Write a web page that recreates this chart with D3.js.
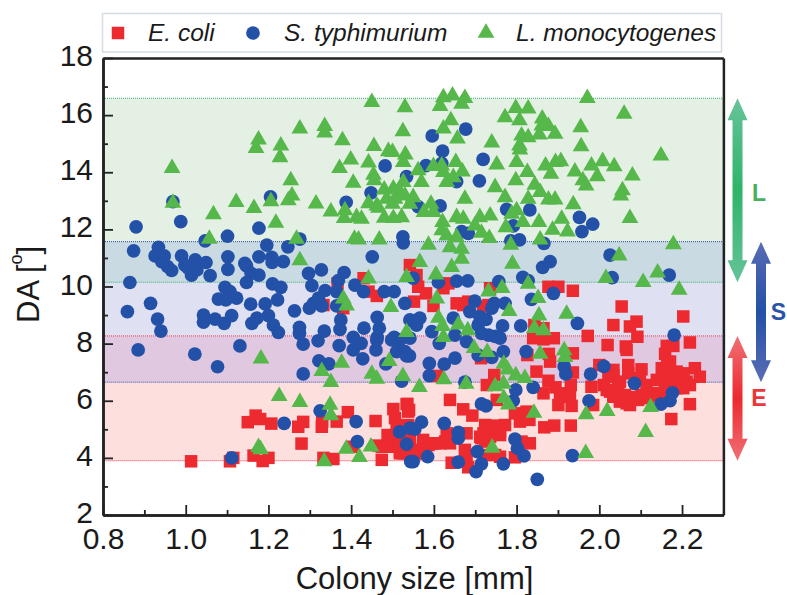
<!DOCTYPE html>
<html>
<head>
<meta charset="utf-8">
<script src="https://cdn.jsdelivr.net/npm/d3@7/dist/d3.min.js"></script>
<style>
  html, body { margin: 0; padding: 0; background: #fff; }
  svg { display: block; }
  text { font-family: "Liberation Sans", Arial, sans-serif; fill: #1a1a1a; }
</style>
</head>
<body>
<div id="chart-area"></div>
<script>
// colony size [mm], DA [deg]
var ecoli = [[1.013,3.88],[1.107,3.88],[1.115,4.00],[1.164,4.08],[1.186,3.89],[1.200,4.00],[1.150,5.25],[1.169,5.48],[1.180,5.36],[1.207,5.20],[1.272,5.09],[1.284,5.26],[1.280,4.50],[1.330,5.27],[1.329,5.09],[1.365,5.27],[1.392,5.60],[1.459,5.29],[1.333,4.00],[1.357,3.96],[1.474,3.93],[1.405,4.39],[1.466,4.43],[1.502,5.71],[1.506,5.39],[1.534,5.88],[1.538,5.62],[1.488,4.80],[1.510,5.15],[1.494,4.39],[1.518,4.22],[1.538,4.16],[1.530,4.57],[1.506,4.74],[1.367,10.11],[1.430,10.29],[1.442,9.82],[1.462,9.67],[1.333,9.35],[1.381,9.24],[1.542,10.75],
[1.558,10.40],[1.562,9.99],[1.581,9.76],[1.623,9.94],[1.635,10.11],[1.552,9.47],[1.599,9.32],[1.655,9.41],[1.683,9.47],[1.671,9.35],[1.719,9.30],[1.736,9.94],[1.732,9.35],[1.877,9.99],[1.901,9.99],[1.936,9.85],[2.054,9.30],[2.203,8.95],[2.034,8.65],[2.090,8.77],[2.074,8.60],[2.092,8.24],[1.843,8.65],[1.865,8.54],[1.840,8.19],[1.865,8.15],[1.890,8.19],[1.972,8.27],[2.020,7.95],[2.064,7.90],[2.066,7.78],[2.219,8.04],[2.179,7.92],[2.163,7.92],[2.159,7.64],[2.171,7.37],[1.826,7.60],[1.878,7.64],[1.881,7.37],[1.936,7.66],[1.714,7.49],[2.000,7.25],[2.034,7.08],[2.070,7.25],[2.102,7.10],[2.151,7.14],[2.231,7.14],[2.171,7.02],[2.203,6.96],[2.243,6.84],[1.848,7.02],[1.877,6.70],[1.936,6.99],[1.607,6.87],[1.746,6.90],[1.728,6.55],[2.034,6.90],[2.046,6.61],[2.070,6.96],[2.098,6.79],[2.114,6.55],[2.155,6.79],[2.187,6.79],[2.211,6.67],[2.011,6.55],[1.981,6.49],[1.931,6.55],[1.894,6.47],[1.905,6.26],[1.865,6.26],[1.639,6.03],[1.536,5.89],[1.540,5.68],[1.752,6.03],[1.929,6.14],[1.901,5.85],[1.933,5.82],[1.985,5.85],[2.018,6.38],[2.034,6.14],[2.050,5.97],[2.074,5.85],[2.094,6.03],[2.118,6.14],[2.139,6.26],[2.159,6.38],[2.219,5.88],[2.174,5.36],[1.671,5.70],[1.693,5.48],[1.796,5.56],[1.808,5.27],[1.824,5.62],[1.831,5.33],[1.867,5.07],[1.891,5.13],[1.931,5.13],[1.724,5.15],[1.748,5.13],[1.772,5.15],[1.720,4.86],[1.736,4.92],[1.715,4.69],[1.760,4.92],[1.679,4.86],[1.631,4.86],[1.627,4.57],[1.603,4.51],[1.574,4.63],[1.639,4.51],[1.587,4.45],[1.558,4.16],[1.522,5.09],[1.538,5.15],[1.542,4.63],[1.526,4.16],[1.832,4.51],[1.812,4.57],[1.675,4.28],[1.679,3.99],[1.760,4.04],[1.796,4.02],[1.724,4.10],[1.643,3.83],[1.683,3.67],[1.534,4.28],[1.554,4.28],
[2.022,6.84],[2.050,6.67],[2.171,6.90],[2.164,7.37],[2.187,7.02],[2.203,6.90],[2.219,6.55],[2.191,6.55],[2.178,6.73],[2.139,6.73],[2.026,6.32],[2.034,6.20],[2.050,6.03],[2.066,5.91],[2.118,6.09],[2.081,6.13],[2.062,6.20],[2.146,6.20],[2.167,6.32],[2.187,6.44],[2.203,6.44],[2.130,6.27],[2.102,6.20],
[1.550,5.04],[1.518,4.51],[1.574,4.39],[1.595,4.51],[1.615,4.51],[1.631,4.57],[1.542,4.22],[1.518,4.16],[1.558,4.16],[1.474,4.39],[1.724,4.98],[1.712,4.74],[1.736,4.74],[1.724,4.57],[1.756,5.04],[1.760,4.80],[1.748,4.10]];

var styphi = [[0.880,12.09],[0.874,11.25],[0.934,11.37],[0.926,11.07],[0.948,11.07],[0.988,12.27],[0.969,12.97],[0.990,11.07],[1.047,11.60],[1.101,11.76],[1.023,10.93],[1.049,10.84],[1.102,11.04],[1.177,12.04],[1.196,11.45],[1.205,13.14],[1.247,11.39],[1.276,11.66],[1.177,11.04],[1.208,11.02],[1.236,10.87],[1.143,10.81],[1.388,12.95],[1.448,13.28],[1.482,14.22],[1.525,11.74],[1.526,11.53],[1.451,11.04],[1.534,13.85],
[0.942,10.87],[1.209,10.84],[0.998,10.75],[1.006,10.64],[1.014,10.40],[1.027,10.58],[0.966,10.56],[0.956,10.70],[1.059,10.38],[1.102,10.60],[1.147,10.72],[1.158,10.46],[1.177,10.40],[1.147,10.14],[0.865,10.14],[1.210,10.09],[1.230,9.97],[1.297,10.46],[1.328,10.58],[1.305,10.03],[1.383,10.49],[1.369,10.21],[1.409,10.05],[1.337,9.86],[1.365,9.82],[1.430,9.82],[1.480,9.82],[1.504,9.82],[1.530,9.41],[1.321,9.59],[1.309,9.41],[1.299,9.24],[1.329,9.32],[1.365,9.32],[0.915,9.41],[0.859,9.12],[0.932,8.86],[0.940,8.44],[1.043,9.00],[1.043,8.75],[1.071,8.86],[1.093,8.71],[1.111,8.98],[1.095,9.97],[1.079,9.56],[1.097,9.53],[1.107,9.82],[1.123,9.59],[1.157,9.38],[1.192,9.39],[1.222,9.53],[1.263,9.15],[1.172,8.89],[1.160,8.71],[1.200,8.98],[1.212,8.65],[1.224,8.39],[1.275,8.57],[1.275,8.36],[1.335,8.44],[1.375,8.83],[1.373,8.50],[1.431,8.54],[1.463,8.92],[1.468,8.54],[1.405,8.22],[1.463,8.22],[1.504,8.22],[1.542,8.83],[1.284,7.98],[1.320,8.10],[1.371,7.93],[1.405,7.78],[1.424,8.01],[1.460,7.78],[1.462,8.13],[1.498,8.13],[0.885,7.78],[1.022,7.63],[1.131,7.92],[1.077,7.19],[1.322,7.40],[1.346,7.29],[1.428,7.47],[1.484,7.29],[1.510,7.72],[1.530,7.72],[1.541,7.57],[1.284,6.94],[1.522,6.69],[1.325,5.65],[1.412,5.27],[1.238,5.21],[1.415,4.57],[1.517,4.91],[1.534,4.48],[1.542,5.04],[1.111,4.00],[1.544,3.87],
[1.677,15.51],[1.596,15.27],[1.621,14.74],[1.719,14.45],[1.710,13.70],[1.581,14.23],[1.655,13.67],[1.619,14.31],[1.615,12.82],[1.562,12.80],[1.776,12.70],[1.832,12.68],[1.952,12.42],[1.984,12.18],[1.958,11.92],[1.792,12.12],[1.667,11.92],[1.683,11.86],[1.786,11.60],[1.807,11.63],[1.866,11.51],[1.881,10.87],[2.026,11.10],
[2.169,10.40],[1.863,10.67],[2.031,10.31],[1.550,10.29],[1.611,10.15],[1.655,10.19],[1.682,10.20],[1.757,10.17],[1.815,10.32],[1.828,10.21],[1.889,9.76],[1.836,9.55],[1.699,9.49],[1.687,9.12],[1.746,9.41],[1.772,9.41],[1.740,9.24],[1.647,8.89],[1.566,8.89],[1.546,8.81],[1.558,8.65],[1.711,8.95],[1.726,8.85],[1.707,8.65],[1.947,8.71],[1.810,8.62],[1.766,8.62],[1.595,8.42],[1.651,8.30],[1.715,8.36],[1.732,8.30],[1.748,8.25],[1.760,8.19],[1.679,8.07],[1.542,8.19],[1.613,8.01],[2.181,8.30],[1.518,8.13],[1.823,7.72],[1.768,7.72],[1.707,7.60],[1.740,7.52],[1.534,7.57],[1.651,7.49],[1.589,7.31],[1.625,7.28],[1.915,7.20],[1.919,6.94],[1.979,6.93],[2.011,7.20],[1.589,6.88],[1.675,6.65],[2.085,6.61],[1.840,6.47],[1.798,6.38],[1.792,6.00],[1.975,6.00],[1.715,5.89],[1.726,5.82],[2.177,6.28],[2.171,6.00],[2.149,5.88],[1.570,5.25],[1.554,5.01],[1.625,5.21],[1.659,4.89],[1.659,4.69],[1.796,4.66],[1.802,4.34],[1.818,4.07],[1.705,4.22],[1.585,4.04],[1.550,3.87],[1.659,3.85],[1.715,3.79],[1.702,3.52],[1.768,3.79],[1.935,4.08],[1.850,3.25]];

var lmono = [[0.967,14.22],[0.969,13.00],[1.067,12.60],[1.057,11.74],[1.122,13.03],[1.165,12.82],[1.218,12.30],[1.206,13.06],[1.248,13.09],[1.257,13.26],[1.254,13.79],[1.228,14.60],[1.230,15.01],[1.170,14.92],[1.176,15.22],[1.276,15.60],[1.336,15.69],[1.336,15.46],[1.379,15.19],[1.450,16.53],[1.530,16.35],[1.525,15.51],[1.455,14.99],[1.490,14.81],[1.500,14.78],[1.531,14.69],[1.526,14.43],[1.399,14.52],[1.372,14.22],[1.442,14.41],[1.454,13.98],[1.456,13.79],[1.405,13.70],[1.480,13.47],[1.502,13.50],[1.526,13.73],[1.518,13.38],[1.486,13.14],[1.506,13.14],[1.530,13.26],[1.315,12.98],[1.351,12.70],[1.385,12.74],[1.383,12.47],[1.413,12.50],[1.425,12.44],[1.442,12.99],[1.462,12.91],[1.466,12.83],[1.480,12.48],[1.502,12.47],[1.522,12.50],[1.500,12.97],[1.268,11.74],[1.408,11.74],[1.418,11.72],[1.468,11.72],[1.276,10.99],
[1.623,16.70],[1.645,16.76],[1.675,16.67],[1.667,16.47],[1.615,16.39],[1.971,16.67],[2.060,16.12],[1.798,16.32],[1.828,16.30],[1.772,16.00],[1.807,15.89],[1.862,15.95],[1.861,15.71],[1.877,15.69],[1.893,15.42],[1.855,15.39],[1.641,15.89],[1.623,15.60],[1.657,15.25],[1.955,15.65],[1.956,14.98],[1.740,15.11],[1.812,15.36],[1.828,15.30],[1.807,15.01],[1.808,14.87],[2.149,14.66],[1.653,14.43],[1.619,14.31],[1.599,14.29],[1.623,14.08],[1.669,14.10],[1.752,14.34],[1.800,14.43],[1.826,14.08],[1.870,14.31],[1.894,14.43],[1.907,14.46],[1.883,14.02],[1.941,14.10],[1.981,14.31],[2.008,14.46],[2.036,14.28],[1.995,13.93],[2.080,13.96],[1.960,13.79],[1.968,13.61],[2.056,13.44],[2.052,13.26],[1.562,14.14],[1.570,13.73],[1.550,13.20],[1.542,12.97],[1.631,13.73],[1.647,13.90],[1.798,13.79],[1.748,13.55],[1.844,13.63],[1.857,13.38],[1.772,13.20],[1.828,13.14],[1.877,13.12],[1.893,13.12],[1.937,12.95],[1.675,13.14],[1.593,12.97],[1.576,12.68],[1.599,12.68],[1.655,12.50],[1.671,12.44],[1.711,12.50],[1.736,12.56],[1.699,12.21],[1.800,12.74],[1.788,12.62],[1.815,12.33],[1.854,12.33],[1.909,12.44],[1.774,12.15],[1.887,12.06],[1.923,12.00],[2.074,12.47],[1.621,12.33],[1.619,12.04],[1.631,11.86],[1.715,11.95],[1.734,11.77],[1.655,11.80],[1.639,11.45],[1.587,11.53],[1.667,11.39],[1.786,11.53],[1.857,11.72],[2.179,11.55],[2.048,11.16],[1.566,10.93],[1.667,11.04],[1.790,10.87],
[1.442,10.35],[1.534,10.40],[1.381,9.65],[1.389,9.41],[1.496,9.35],[1.534,8.48],[1.182,7.55],[1.492,7.46],[1.377,7.40],[1.329,7.11],[1.351,6.73],[1.450,7.02],[1.462,6.84],[1.525,6.94],[1.226,6.24],[1.276,6.03],[1.349,5.93],[1.351,5.56],[1.176,4.45],[1.181,4.37],[1.388,4.39],[1.448,4.47],[1.420,4.10],[1.335,3.95],
[1.643,10.75],[1.605,10.49],[2.016,10.37],[2.141,10.56],[2.106,10.23],[1.828,10.17],[1.732,9.90],[1.765,10.02],[2.193,9.96],[1.607,9.65],[1.852,9.67],[1.782,9.21],[1.921,9.12],[1.854,9.06],[1.611,8.98],[1.621,8.69],[1.659,8.74],[1.682,8.54],[1.623,8.30],[1.843,8.62],[1.865,8.54],[1.697,7.92],[1.729,7.78],[1.915,7.84],[1.917,7.60],[1.857,7.72],[1.769,7.37],[1.778,7.17],[1.798,6.96],[1.820,6.87],[1.768,6.67],[1.748,6.58],[1.624,6.82],[1.565,6.55],[1.678,6.67],[1.769,6.17],[1.780,5.94],[1.842,5.65],[1.968,5.60],[2.019,5.71],[2.124,5.85],[2.112,4.98],[1.741,4.43],[1.967,4.24]];

var species = ["E. coli", "S. typhimurium", "L. monocytogenes"];
var bandLetters = ["E", "S", "L"];
// DA range of each species: low, high
var bandE = [3.9, 8.27];
var bandS = [6.65, 11.57];
var bandL = [10.15, 16.59];

var xMajor = [0.8, 1.0, 1.2, 1.4, 1.6, 1.8, 2.0, 2.2];
var xMinor = [0.9, 1.1, 1.3, 1.5, 1.7, 1.9, 2.1, 2.3];
var yMajor = [2, 4, 6, 8, 10, 12, 14, 16, 18];
var yMinor = [3, 5, 7, 9, 11, 13, 15, 17];

var red = "#ec2a2f", blue = "#2451a8", green = "#56b84a";

var svg = d3.select("#chart-area").append("svg")
    .attr("width", 787)
    .attr("height", 595);

var x = d3.scaleLinear().domain([0.8, 2.3]).range([103, 723.4]);
var y = d3.scaleLinear().domain([2, 18]).range([515, 58]);

// gradients for the arrows
var defs = svg.append("defs");
function addGradient(id, end, mid) {
    var g = defs.append("linearGradient").attr("id", id)
        .attr("x1", 0).attr("x2", 0).attr("y1", 0).attr("y2", 1);
    g.append("stop").attr("offset", "0%").attr("stop-color", end);
    g.append("stop").attr("offset", "50%").attr("stop-color", mid);
    g.append("stop").attr("offset", "100%").attr("stop-color", end);
}
addGradient("gradL", "#66c39a", "#2fb468");
addGradient("gradS", "#5a6cb4", "#2350a6");
addGradient("gradE", "#f07075", "#ec2a2f");

// shaded bands, the overlaps get their own tint
var plot = svg.append("g");
function band(lo, hi, fill) {
    plot.append("rect")
        .attr("x", x.range()[0])
        .attr("width", x.range()[1] - x.range()[0])
        .attr("y", y(hi))
        .attr("height", y(lo) - y(hi))
        .attr("fill", fill);
}
band(bandL[0], bandL[1], "#e3f0e3");
band(bandS[0], bandS[1], "#dfe0f1");
band(bandE[0], bandE[1], "#fddfde");
band(bandL[0], bandS[1], "#c9dae3");
band(bandS[0], bandE[1], "#dfc8e0");

function bandEdge(range, color) {
    plot.append("rect")
        .attr("x", x.range()[0])
        .attr("width", x.range()[1] - x.range()[0])
        .attr("y", y(range[1]))
        .attr("height", y(range[0]) - y(range[1]))
        .attr("fill", "none")
        .attr("stroke", color)
        .attr("stroke-width", 1)
        .attr("stroke-dasharray", "1 1");
}
bandEdge(bandL, "#35b36b");
bandEdge(bandS, "#2a4fb0");
bandEdge(bandE, "#ec3a50");

// points, red first so blue and green sit on top
var squarePath = d3.symbol().type(d3.symbolSquare).size(156)();
var circlePath = d3.symbol().type(d3.symbolCircle).size(148)();
var trianglePath = d3.symbol().type(d3.symbolTriangle).size(122)();

function drawPoints(data, path, fill, shift) {
    svg.append("g").selectAll("path")
        .data(data)
        .enter()
        .append("path")
        .attr("d", path)
        .attr("transform", (d) => "translate(" + x(d[0]) + "," + (y(d[1]) + shift) + ")")
        .attr("fill", fill);
}
drawPoints(ecoli, squarePath, red, 0);
drawPoints(styphi, circlePath, blue, 0);
// triangle is centred on its centroid, the values were read at its middle
drawPoints(lmono, trianglePath, green, 2.2);

// axes, ticks point inside
var axisColor = "#222";
function styleAxis(g) {
    g.selectAll("path.domain").attr("stroke", axisColor).attr("stroke-width", 2.5);
    g.selectAll("line").attr("stroke", axisColor).attr("stroke-width", 1.8);
    g.selectAll("text")
        .style("font-size", "30px")
        .style("font-family", '"Liberation Sans", Arial, sans-serif')
        .attr("fill", "#1a1a1a");
}

svg.append("g").attr("transform", "translate(0,515)")
    .call(d3.axisBottom(x).tickValues(xMajor).tickSizeInner(-10).tickSizeOuter(0).tickPadding(13).tickFormat(d3.format(".1f")))
    .call(styleAxis);
svg.append("g").attr("transform", "translate(0,515)")
    .call(d3.axisBottom(x).tickValues(xMinor).tickSizeInner(-5).tickSizeOuter(0).tickFormat(""))
    .call(styleAxis);
svg.append("g").attr("transform", "translate(103,0)")
    .call(d3.axisLeft(y).tickValues(yMajor).tickSizeInner(-10).tickSizeOuter(0).tickPadding(10).tickFormat(d3.format("d")))
    .call(styleAxis)
    .call((g) => g.selectAll("text").attr("dy", "0.25em"));
svg.append("g").attr("transform", "translate(103,0)")
    .call(d3.axisLeft(y).tickValues(yMinor).tickSizeInner(-5).tickSizeOuter(0).tickFormat(""))
    .call(styleAxis);

// top and right of the frame
svg.append("g").attr("transform", "translate(0,58)")
    .call(d3.axisTop(x).tickValues([]).tickSizeOuter(0))
    .call(styleAxis);
svg.append("g").attr("transform", "translate(723.4,0)")
    .call(d3.axisRight(y).tickValues([]).tickSizeOuter(0))
    .call(styleAxis);

svg.append("text")
    .attr("x", 414.5)
    .attr("y", 589)
    .attr("text-anchor", "middle")
    .style("font-size", "31px")
    .text("Colony size [mm]");

var yTitle = svg.append("text")
    .attr("transform", "translate(38.5,323) rotate(-90)")
    .style("font-size", "31px");
yTitle.append("tspan").text("DA [");
yTitle.append("tspan").attr("dy", -17).style("font-size", "18px").text("o");
yTitle.append("tspan").attr("dy", 17).text("]");

// legend
var legend = svg.append("g");
legend.append("rect")
    .attr("x", 102.5).attr("y", 13.5)
    .attr("width", 619).attr("height", 38.5)
    .attr("fill", "#fff")
    .attr("stroke", "#d6dce3")
    .attr("stroke-width", 1.5);

var legendMarks = [[118, squarePath, red, 148], [253, circlePath, blue, 284], [486, trianglePath, green, 516]];
species.forEach((name, i) => {
    var m = legendMarks[i];
    legend.append("path")
        .attr("d", m[1])
        .attr("transform", "translate(" + m[0] + ",33)")
        .attr("fill", m[2]);
    legend.append("text")
        .attr("x", m[3])
        .attr("y", 41)
        .style("font-size", "24.5px")
        .style("font-style", "italic")
        .text(name);
});

// double headed arrows beside the plot
function arrow(cx, range, gradId) {
    var top = y(range[1]), bot = y(range[0]);
    var hw = 10, sw = 5, hl = 22;
    var pts = [[cx, top], [cx + hw, top + hl], [cx + sw, top + hl], [cx + sw, bot - hl], [cx + hw, bot - hl],
        [cx, bot], [cx - hw, bot - hl], [cx - sw, bot - hl], [cx - sw, top + hl], [cx - hw, top + hl]];
    svg.append("path")
        .attr("d", d3.line()(pts) + "Z")
        .attr("fill", "url(#" + gradId + ")");
}
arrow(737.5, bandL, "gradL");
arrow(761, bandS, "gradS");
arrow(737.5, bandE, "gradE");

function arrowLabel(cx, value, letter, color) {
    svg.append("text")
        .attr("x", cx)
        .attr("y", y(value))
        .attr("dy", "0.36em")
        .attr("text-anchor", "middle")
        .style("font-size", "23px")
        .style("font-weight", "bold")
        .style("fill", color)
        .text(letter);
}
arrowLabel(759, 13.3, bandLetters[2], "#4bb05e");
arrowLabel(778.5, 9.1, bandLetters[1], "#2a52a8");
arrowLabel(759, 6.1, bandLetters[0], "#e8383c");
</script>
</body>
</html>
